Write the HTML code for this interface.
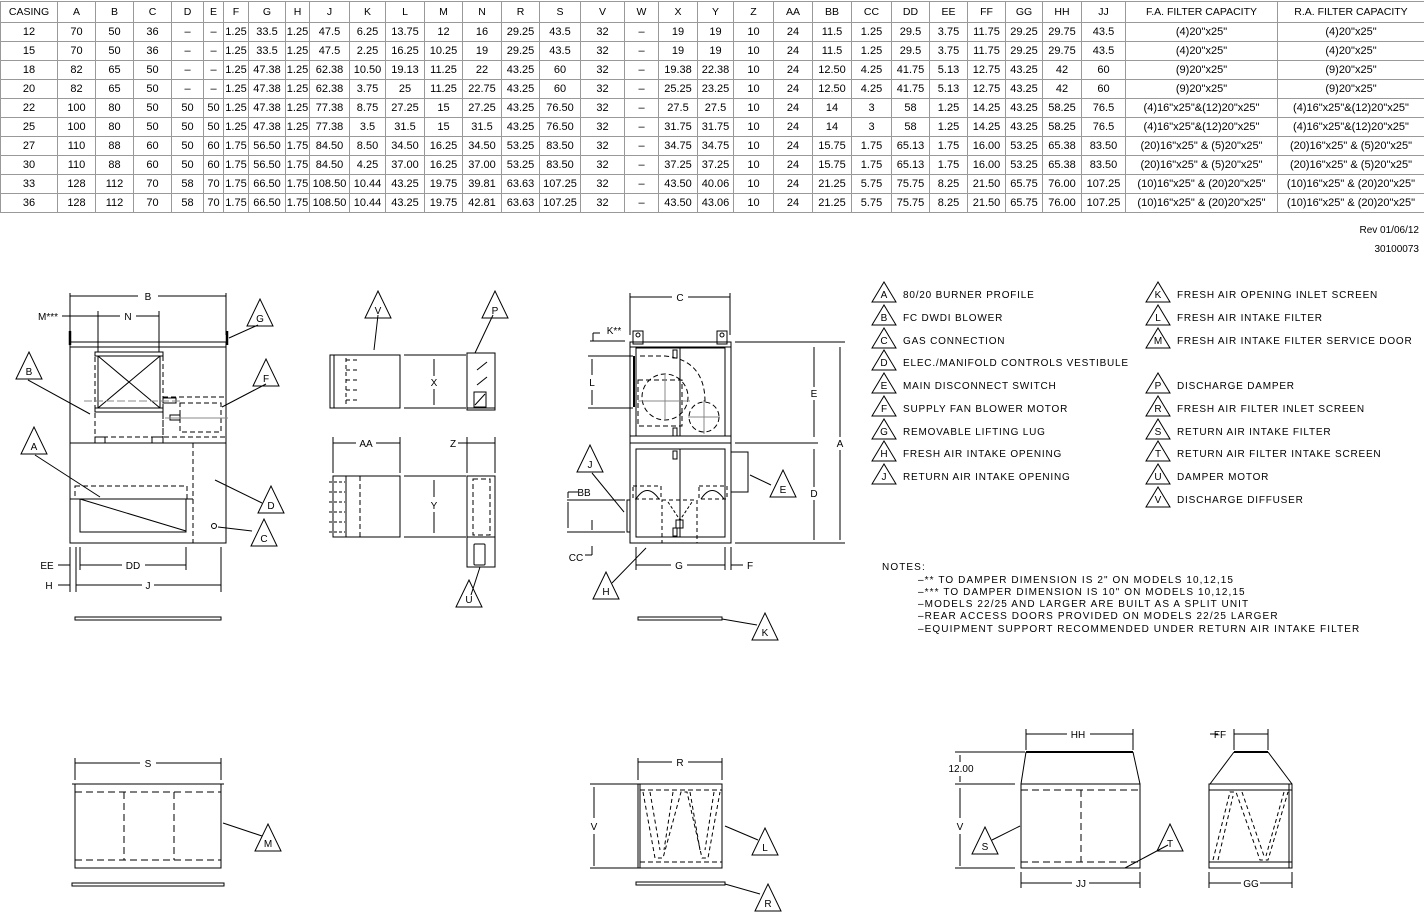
<!DOCTYPE html>
<html><head><meta charset="utf-8">
<style>
html,body{margin:0;padding:0;background:#fff;}
body{width:1424px;height:913px;position:relative;overflow:hidden;font-family:"Liberation Sans",sans-serif;}
table{position:absolute;left:0;top:1px;border-collapse:collapse;table-layout:fixed;width:1424px;font-size:11px;color:#000;}
td{border:1px solid #999;text-align:center;height:18px;padding:0;white-space:nowrap;overflow:hidden;line-height:18px;}
tr.h td{height:20px;font-size:10.5px;}
svg{position:absolute;left:0;top:0;}
svg text{font-family:"Liberation Sans",sans-serif;font-size:10px;fill:#000;}
</style></head><body>
<table>
<colgroup>
<col style="width:57px"><col style="width:38px"><col style="width:38px"><col style="width:38px"><col style="width:32px"><col style="width:20px"><col style="width:25px"><col style="width:37px"><col style="width:24px"><col style="width:40px"><col style="width:36px"><col style="width:39px"><col style="width:38px"><col style="width:39px"><col style="width:38px"><col style="width:41px"><col style="width:44px"><col style="width:34px"><col style="width:39px"><col style="width:36px"><col style="width:40px"><col style="width:39px"><col style="width:39px"><col style="width:40px"><col style="width:38px"><col style="width:38px"><col style="width:38px"><col style="width:37px"><col style="width:39px"><col style="width:44px"><col style="width:152px"><col style="width:147px">
</colgroup>
<tr class="h"><td>CASING</td><td>A</td><td>B</td><td>C</td><td>D</td><td>E</td><td>F</td><td>G</td><td>H</td><td>J</td><td>K</td><td>L</td><td>M</td><td>N</td><td>R</td><td>S</td><td>V</td><td>W</td><td>X</td><td>Y</td><td>Z</td><td>AA</td><td>BB</td><td>CC</td><td>DD</td><td>EE</td><td>FF</td><td>GG</td><td>HH</td><td>JJ</td><td>F.A. FILTER CAPACITY</td><td>R.A. FILTER CAPACITY</td></tr>
<tr><td>12</td><td>70</td><td>50</td><td>36</td><td>–</td><td>–</td><td>1.25</td><td>33.5</td><td>1.25</td><td>47.5</td><td>6.25</td><td>13.75</td><td>12</td><td>16</td><td>29.25</td><td>43.5</td><td>32</td><td>–</td><td>19</td><td>19</td><td>10</td><td>24</td><td>11.5</td><td>1.25</td><td>29.5</td><td>3.75</td><td>11.75</td><td>29.25</td><td>29.75</td><td>43.5</td><td>(4)20"x25"</td><td>(4)20"x25"</td></tr>
<tr><td>15</td><td>70</td><td>50</td><td>36</td><td>–</td><td>–</td><td>1.25</td><td>33.5</td><td>1.25</td><td>47.5</td><td>2.25</td><td>16.25</td><td>10.25</td><td>19</td><td>29.25</td><td>43.5</td><td>32</td><td>–</td><td>19</td><td>19</td><td>10</td><td>24</td><td>11.5</td><td>1.25</td><td>29.5</td><td>3.75</td><td>11.75</td><td>29.25</td><td>29.75</td><td>43.5</td><td>(4)20"x25"</td><td>(4)20"x25"</td></tr>
<tr><td>18</td><td>82</td><td>65</td><td>50</td><td>–</td><td>–</td><td>1.25</td><td>47.38</td><td>1.25</td><td>62.38</td><td>10.50</td><td>19.13</td><td>11.25</td><td>22</td><td>43.25</td><td>60</td><td>32</td><td>–</td><td>19.38</td><td>22.38</td><td>10</td><td>24</td><td>12.50</td><td>4.25</td><td>41.75</td><td>5.13</td><td>12.75</td><td>43.25</td><td>42</td><td>60</td><td>(9)20"x25"</td><td>(9)20"x25"</td></tr>
<tr><td>20</td><td>82</td><td>65</td><td>50</td><td>–</td><td>–</td><td>1.25</td><td>47.38</td><td>1.25</td><td>62.38</td><td>3.75</td><td>25</td><td>11.25</td><td>22.75</td><td>43.25</td><td>60</td><td>32</td><td>–</td><td>25.25</td><td>23.25</td><td>10</td><td>24</td><td>12.50</td><td>4.25</td><td>41.75</td><td>5.13</td><td>12.75</td><td>43.25</td><td>42</td><td>60</td><td>(9)20"x25"</td><td>(9)20"x25"</td></tr>
<tr><td>22</td><td>100</td><td>80</td><td>50</td><td>50</td><td>50</td><td>1.25</td><td>47.38</td><td>1.25</td><td>77.38</td><td>8.75</td><td>27.25</td><td>15</td><td>27.25</td><td>43.25</td><td>76.50</td><td>32</td><td>–</td><td>27.5</td><td>27.5</td><td>10</td><td>24</td><td>14</td><td>3</td><td>58</td><td>1.25</td><td>14.25</td><td>43.25</td><td>58.25</td><td>76.5</td><td>(4)16"x25"&amp;(12)20"x25"</td><td>(4)16"x25"&amp;(12)20"x25"</td></tr>
<tr><td>25</td><td>100</td><td>80</td><td>50</td><td>50</td><td>50</td><td>1.25</td><td>47.38</td><td>1.25</td><td>77.38</td><td>3.5</td><td>31.5</td><td>15</td><td>31.5</td><td>43.25</td><td>76.50</td><td>32</td><td>–</td><td>31.75</td><td>31.75</td><td>10</td><td>24</td><td>14</td><td>3</td><td>58</td><td>1.25</td><td>14.25</td><td>43.25</td><td>58.25</td><td>76.5</td><td>(4)16"x25"&amp;(12)20"x25"</td><td>(4)16"x25"&amp;(12)20"x25"</td></tr>
<tr><td>27</td><td>110</td><td>88</td><td>60</td><td>50</td><td>60</td><td>1.75</td><td>56.50</td><td>1.75</td><td>84.50</td><td>8.50</td><td>34.50</td><td>16.25</td><td>34.50</td><td>53.25</td><td>83.50</td><td>32</td><td>–</td><td>34.75</td><td>34.75</td><td>10</td><td>24</td><td>15.75</td><td>1.75</td><td>65.13</td><td>1.75</td><td>16.00</td><td>53.25</td><td>65.38</td><td>83.50</td><td>(20)16"x25" &amp; (5)20"x25"</td><td>(20)16"x25" &amp; (5)20"x25"</td></tr>
<tr><td>30</td><td>110</td><td>88</td><td>60</td><td>50</td><td>60</td><td>1.75</td><td>56.50</td><td>1.75</td><td>84.50</td><td>4.25</td><td>37.00</td><td>16.25</td><td>37.00</td><td>53.25</td><td>83.50</td><td>32</td><td>–</td><td>37.25</td><td>37.25</td><td>10</td><td>24</td><td>15.75</td><td>1.75</td><td>65.13</td><td>1.75</td><td>16.00</td><td>53.25</td><td>65.38</td><td>83.50</td><td>(20)16"x25" &amp; (5)20"x25"</td><td>(20)16"x25" &amp; (5)20"x25"</td></tr>
<tr><td>33</td><td>128</td><td>112</td><td>70</td><td>58</td><td>70</td><td>1.75</td><td>66.50</td><td>1.75</td><td>108.50</td><td>10.44</td><td>43.25</td><td>19.75</td><td>39.81</td><td>63.63</td><td>107.25</td><td>32</td><td>–</td><td>43.50</td><td>40.06</td><td>10</td><td>24</td><td>21.25</td><td>5.75</td><td>75.75</td><td>8.25</td><td>21.50</td><td>65.75</td><td>76.00</td><td>107.25</td><td>(10)16"x25" &amp; (20)20"x25"</td><td>(10)16"x25" &amp; (20)20"x25"</td></tr>
<tr><td>36</td><td>128</td><td>112</td><td>70</td><td>58</td><td>70</td><td>1.75</td><td>66.50</td><td>1.75</td><td>108.50</td><td>10.44</td><td>43.25</td><td>19.75</td><td>42.81</td><td>63.63</td><td>107.25</td><td>32</td><td>–</td><td>43.50</td><td>43.06</td><td>10</td><td>24</td><td>21.25</td><td>5.75</td><td>75.75</td><td>8.25</td><td>21.50</td><td>65.75</td><td>76.00</td><td>107.25</td><td>(10)16"x25" &amp; (20)20"x25"</td><td>(10)16"x25" &amp; (20)20"x25"</td></tr>
</table>

<svg width="1424" height="913" viewBox="0 0 1424 913" xmlns="http://www.w3.org/2000/svg">
<g fill="none" stroke="#000" stroke-width="1">
<!-- LEFT FRONT VIEW -->
<line x1="70" y1="296" x2="138" y2="296"/><line x1="158" y1="296" x2="226" y2="296"/>
<line x1="70" y1="293" x2="70" y2="335"/><line x1="226" y1="293" x2="226" y2="335"/>
<line x1="62" y1="316" x2="120" y2="316"/><line x1="136" y1="316" x2="159" y2="316"/>
<line x1="98" y1="311" x2="98" y2="352"/><line x1="159" y1="311" x2="159" y2="352"/>
<line x1="70" y1="331" x2="70" y2="345" stroke-width="2.5"/><line x1="227" y1="331" x2="227" y2="345" stroke-width="2.5"/>
<rect x="70" y="342" width="156" height="5"/>
<rect x="70" y="347" width="156" height="196"/>
<line x1="70" y1="443" x2="226" y2="443"/>
<rect x="95" y="352" width="68" height="85" stroke-dasharray="5,3"/>
<rect x="95" y="352" width="68" height="4"/>
<rect x="98" y="356" width="62" height="52"/>
<line x1="98" y1="356" x2="160" y2="408"/><line x1="160" y1="356" x2="98" y2="408"/>
<rect x="95" y="408" width="68" height="4"/>
<rect x="95" y="437" width="10" height="6"/><rect x="152" y="437" width="11" height="6"/>
<rect x="163" y="397" width="63" height="40" stroke-dasharray="5,3"/>
<rect x="180" y="403" width="41" height="29" stroke-dasharray="5,3"/>
<rect x="163" y="398" width="13" height="5"/><rect x="170" y="415" width="10" height="5"/>
<line x1="84" y1="401" x2="182" y2="401" stroke="#888" stroke-dasharray="8,3"/>
<line x1="165" y1="418" x2="228" y2="418" stroke="#888"/>
<line x1="193" y1="443" x2="193" y2="543" stroke-dasharray="5,3"/>
<rect x="75" y="486" width="112" height="13" stroke-dasharray="5,3"/>
<line x1="70" y1="499" x2="193" y2="499"/>
<rect x="80" y="499" width="106" height="33"/>
<line x1="80" y1="499" x2="186" y2="531"/>
<circle cx="214" cy="526" r="2.5"/>
<line x1="70" y1="547" x2="70" y2="592"/><line x1="76" y1="547" x2="76" y2="592"/>
<line x1="80" y1="547" x2="80" y2="570"/><line x1="186" y1="547" x2="186" y2="570"/>
<line x1="58" y1="565" x2="70" y2="565"/><line x1="80" y1="565" x2="122" y2="565"/><line x1="145" y1="565" x2="186" y2="565"/>
<line x1="58" y1="585" x2="70" y2="585"/><line x1="76" y1="585" x2="142" y2="585"/><line x1="154" y1="585" x2="221" y2="585"/>
<line x1="221" y1="547" x2="221" y2="592"/>
<rect x="75" y="617" width="146" height="3"/>
<line x1="258" y1="325" x2="229" y2="338"/>
<line x1="28" y1="380" x2="90" y2="414"/>
<line x1="266" y1="384" x2="222" y2="407"/>
<line x1="35" y1="455" x2="100" y2="497"/>
<line x1="262" y1="503" x2="215" y2="480"/>
<line x1="252" y1="531" x2="218" y2="527"/>

<!-- MIDDLE VIEWS -->
<rect x="330" y="355" width="4" height="53"/>
<rect x="334" y="355" width="66" height="53"/>
<line x1="346" y1="358" x2="346" y2="406" stroke-dasharray="4,3"/>
<line x1="346" y1="360" x2="360" y2="360" stroke-dasharray="4,3"/><line x1="346" y1="370" x2="360" y2="370" stroke-dasharray="4,3"/><line x1="346" y1="380" x2="360" y2="380" stroke-dasharray="4,3"/><line x1="346" y1="390" x2="360" y2="390" stroke-dasharray="4,3"/><line x1="346" y1="400" x2="360" y2="400" stroke-dasharray="4,3"/>
<line x1="404" y1="355" x2="466" y2="355"/><line x1="404" y1="408" x2="466" y2="408"/>
<line x1="434" y1="359" x2="434" y2="376"/><line x1="434" y1="389" x2="434" y2="405"/>
<rect x="467" y="353" width="28" height="57"/><line x1="467" y1="408" x2="495" y2="408"/>
<line x1="477" y1="370" x2="487" y2="362"/><line x1="477" y1="385" x2="487" y2="377"/>
<rect x="474" y="392" width="12" height="15"/><line x1="475" y1="405" x2="485" y2="394"/>
<line x1="378" y1="315" x2="374" y2="350"/>
<line x1="493" y1="315" x2="475" y2="353"/>
<line x1="333" y1="443" x2="356" y2="443"/><line x1="376" y1="443" x2="400" y2="443"/>
<line x1="333" y1="437" x2="333" y2="473"/><line x1="400" y1="437" x2="400" y2="473"/>
<line x1="458" y1="443" x2="495" y2="443"/>
<line x1="467" y1="437" x2="467" y2="473"/><line x1="495" y1="437" x2="495" y2="473"/>
<rect x="333" y="476" width="67" height="61"/>
<line x1="360" y1="476" x2="360" y2="537" stroke-dasharray="5,3"/>
<line x1="346" y1="476" x2="346" y2="537"/>
<line x1="329" y1="482" x2="345" y2="482" stroke-dasharray="3,2"/><line x1="329" y1="492" x2="345" y2="492" stroke-dasharray="3,2"/><line x1="329" y1="502" x2="345" y2="502" stroke-dasharray="3,2"/><line x1="329" y1="512" x2="345" y2="512" stroke-dasharray="3,2"/><line x1="329" y1="522" x2="345" y2="522" stroke-dasharray="3,2"/><line x1="329" y1="532" x2="345" y2="532" stroke-dasharray="3,2"/>
<line x1="404" y1="476" x2="466" y2="476"/><line x1="404" y1="537" x2="466" y2="537"/>
<line x1="434" y1="480" x2="434" y2="497"/><line x1="434" y1="512" x2="434" y2="533"/>
<rect x="467" y="476" width="28" height="91"/><line x1="467" y1="537" x2="495" y2="537"/>
<rect x="473" y="479" width="17" height="56" stroke-dasharray="5,3"/>
<rect x="474" y="544" width="11" height="21" rx="1"/>
<line x1="471" y1="595" x2="480" y2="567"/>

<!-- RIGHT SIDE VIEW -->
<line x1="630" y1="297" x2="672" y2="297"/><line x1="688" y1="297" x2="730" y2="297"/>
<line x1="630" y1="293" x2="630" y2="335"/><line x1="730" y1="293" x2="730" y2="335"/>
<rect x="633" y="331" width="10" height="13"/><rect x="717" y="331" width="10" height="13"/>
<circle cx="638" cy="335" r="2"/><circle cx="722" cy="335" r="2"/>
<rect x="630" y="342" width="101" height="5"/>
<rect x="630" y="347" width="101" height="196"/>
<rect x="636" y="348" width="89" height="88"/>
<line x1="680" y1="348" x2="680" y2="436"/>
<line x1="630" y1="436" x2="731" y2="436"/><line x1="630" y1="443" x2="731" y2="443"/>
<line x1="634" y1="356" x2="634" y2="407" stroke-width="2"/>
<circle cx="665" cy="397" r="23" stroke-dasharray="5,3"/>
<circle cx="704" cy="417" r="15" stroke-dasharray="5,3"/>
<path d="M640 356 L665 356 Q705 360 705 402" stroke-dasharray="5,3"/>
<rect x="638" y="380" width="44" height="46" stroke-dasharray="5,3"/>
<line x1="665" y1="374" x2="665" y2="420" stroke="#888"/><line x1="638" y1="401" x2="690" y2="401" stroke="#888"/>
<line x1="704" y1="400" x2="704" y2="434" stroke="#888"/><line x1="688" y1="417" x2="720" y2="417" stroke="#888"/>
<rect x="673" y="350" width="4" height="8"/><rect x="673" y="428" width="4" height="8"/>
<rect x="636" y="449" width="89" height="88"/>
<line x1="680" y1="449" x2="680" y2="537"/>
<rect x="673" y="451" width="4" height="8"/><rect x="673" y="528" width="4" height="8"/>
<rect x="731" y="452" width="17" height="40"/>
<rect x="633" y="486" width="28" height="13" stroke-dasharray="4,3"/><rect x="699" y="486" width="28" height="13" stroke-dasharray="4,3"/>
<path d="M636 499 Q647 482 659 499 M701 499 Q712 482 724 499"/>
<rect x="662" y="500" width="35" height="43" stroke-dasharray="4,3"/>
<path d="M668 502 L680 520 L692 502" stroke-dasharray="3,2"/><rect x="676" y="520" width="7" height="8"/>
<rect x="627" y="500" width="3" height="32"/>
<line x1="735" y1="342" x2="845" y2="342"/><line x1="735" y1="443" x2="818" y2="443"/><line x1="735" y1="543" x2="845" y2="543"/>
<line x1="814" y1="347" x2="814" y2="387"/><line x1="814" y1="400" x2="814" y2="437"/>
<line x1="814" y1="449" x2="814" y2="487"/><line x1="814" y1="500" x2="814" y2="540"/>
<line x1="840" y1="347" x2="840" y2="437"/><line x1="840" y1="450" x2="840" y2="540"/>
<line x1="590" y1="341" x2="625" y2="341"/><line x1="593" y1="333" x2="593" y2="341"/><line x1="593" y1="333" x2="600" y2="333"/>
<line x1="588" y1="356" x2="633" y2="356"/><line x1="588" y1="408" x2="633" y2="408"/>
<line x1="592" y1="359" x2="592" y2="375"/><line x1="592" y1="390" x2="592" y2="405"/>
<line x1="567" y1="500" x2="625" y2="500"/><line x1="567" y1="532" x2="625" y2="532"/>
<line x1="568" y1="502" x2="568" y2="528"/><line x1="592" y1="520" x2="592" y2="530"/>
<line x1="568" y1="492" x2="578" y2="492"/><line x1="568" y1="492" x2="568" y2="498"/>
<line x1="592" y1="546" x2="592" y2="555"/><line x1="585" y1="555" x2="592" y2="555"/>
<line x1="636" y1="547" x2="636" y2="570"/><line x1="725" y1="547" x2="725" y2="570"/><line x1="731" y1="547" x2="731" y2="570"/>
<line x1="636" y1="565" x2="671" y2="565"/><line x1="687" y1="565" x2="725" y2="565"/><line x1="731" y1="565" x2="743" y2="565"/>
<line x1="612" y1="583" x2="646" y2="548"/>
<line x1="592" y1="473" x2="624" y2="512"/>
<line x1="771" y1="485" x2="750" y2="475"/>
<rect x="638" y="617" width="84" height="3"/>
<line x1="722" y1="619" x2="757" y2="625"/>

<!-- BOTTOM LEFT -->
<line x1="75" y1="763" x2="140" y2="763"/><line x1="156" y1="763" x2="221" y2="763"/>
<line x1="75" y1="758" x2="75" y2="780"/><line x1="221" y1="758" x2="221" y2="780"/>
<line x1="72" y1="784" x2="224" y2="784"/>
<rect x="75" y="784" width="146" height="84"/>
<line x1="75" y1="792" x2="221" y2="792" stroke-dasharray="7,4"/><line x1="75" y1="860" x2="221" y2="860" stroke-dasharray="7,4"/>
<line x1="124" y1="792" x2="124" y2="860" stroke-dasharray="7,4"/><line x1="174" y1="792" x2="174" y2="860" stroke-dasharray="7,4"/>
<rect x="72" y="883" width="152" height="3"/>
<line x1="223" y1="823" x2="262" y2="836"/>

<!-- BOTTOM MIDDLE -->
<line x1="638" y1="762" x2="672" y2="762"/><line x1="688" y1="762" x2="722" y2="762"/>
<line x1="638" y1="758" x2="638" y2="780"/><line x1="722" y1="758" x2="722" y2="780"/>
<line x1="590" y1="784" x2="722" y2="784"/><line x1="590" y1="868" x2="722" y2="868"/>
<rect x="638" y="784" width="84" height="84"/><line x1="640" y1="784" x2="640" y2="868"/>
<line x1="640" y1="790" x2="722" y2="790" stroke-dasharray="5,3"/><line x1="640" y1="862" x2="722" y2="862" stroke-dasharray="5,3"/>
<path d="M643 792 L655 858 L663 858 L681 792 L687 792 L702 858 L708 858 L720 792" stroke-dasharray="4,3"/>
<path d="M650 792 L660 850 M673 792 L664 850 M690 792 L700 850 M714 792 L705 850" stroke-dasharray="4,3"/>
<line x1="594" y1="787" x2="594" y2="818"/><line x1="594" y1="834" x2="594" y2="866"/>
<rect x="636" y="882" width="89" height="3"/>
<line x1="725" y1="826" x2="758" y2="840"/><line x1="725" y1="884" x2="760" y2="894"/>

<!-- BOTTOM RIGHT -->
<line x1="1026" y1="734" x2="1067" y2="734"/><line x1="1090" y1="734" x2="1133" y2="734"/>
<line x1="1026" y1="729" x2="1026" y2="750"/><line x1="1133" y1="729" x2="1133" y2="750"/>
<line x1="1026" y1="752" x2="1133" y2="752" stroke-width="2"/>
<line x1="1026" y1="752" x2="1021" y2="784"/><line x1="1133" y1="752" x2="1140" y2="784"/>
<line x1="955" y1="752" x2="1025" y2="752"/><line x1="955" y1="784" x2="1015" y2="784"/><line x1="955" y1="868" x2="1015" y2="868"/>
<line x1="960" y1="755" x2="960" y2="762"/><line x1="960" y1="776" x2="960" y2="782"/>
<rect x="1021" y="784" width="119" height="84"/>
<line x1="1021" y1="790" x2="1140" y2="790" stroke-dasharray="7,4"/><line x1="1021" y1="862" x2="1140" y2="862" stroke-dasharray="7,4"/>
<line x1="1081" y1="790" x2="1081" y2="862" stroke-dasharray="7,4"/>
<line x1="960" y1="788" x2="960" y2="818"/><line x1="960" y1="834" x2="960" y2="866"/>
<line x1="1021" y1="872" x2="1021" y2="888"/><line x1="1140" y1="872" x2="1140" y2="888"/>
<line x1="1021" y1="883" x2="1072" y2="883"/><line x1="1089" y1="883" x2="1140" y2="883"/>
<line x1="992" y1="840" x2="1020" y2="826"/><line x1="1168" y1="845" x2="1125" y2="868"/>
<line x1="1234" y1="734" x2="1268" y2="734"/><line x1="1210" y1="734" x2="1218" y2="734"/>
<line x1="1234" y1="729" x2="1234" y2="750"/><line x1="1268" y1="729" x2="1268" y2="750"/>
<line x1="1234" y1="752" x2="1268" y2="752" stroke-width="2"/>
<line x1="1234" y1="752" x2="1210" y2="784"/><line x1="1268" y1="752" x2="1292" y2="784"/>
<rect x="1209" y="784" width="83" height="84"/><line x1="1209" y1="790" x2="1292" y2="790"/><line x1="1209" y1="862" x2="1292" y2="862"/>
<line x1="1289" y1="784" x2="1289" y2="868"/>
<path d="M1213 860 L1230 792 L1236 792 L1260 860 L1268 860 L1288 792" stroke-dasharray="4,3"/>
<path d="M1218 860 L1233 796 M1242 792 L1264 856 M1284 792 L1266 856" stroke-dasharray="4,3"/>
<line x1="1209" y1="872" x2="1209" y2="888"/><line x1="1292" y1="872" x2="1292" y2="888"/>
<line x1="1209" y1="883" x2="1241" y2="883"/><line x1="1260" y1="883" x2="1292" y2="883"/>

<path d="M247 326 L260 299 L273 326 Z"/>
<path d="M16 379 L29 352 L42 379 Z"/>
<path d="M253 386 L266 359 L279 386 Z"/>
<path d="M21 454 L34 427 L47 454 Z"/>
<path d="M258 513 L271 486 L284 513 Z"/>
<path d="M251 546 L264 519 L277 546 Z"/>
<path d="M365 318 L378 291 L391 318 Z"/>
<path d="M482 318 L495 291 L508 318 Z"/>
<path d="M456 607 L469 580 L482 607 Z"/>
<path d="M577 472 L590 445 L603 472 Z"/>
<path d="M770 497 L783 470 L796 497 Z"/>
<path d="M593 599 L606 572 L619 599 Z"/>
<path d="M752 640 L765 613 L778 640 Z"/>
<path d="M255 851 L268 824 L281 851 Z"/>
<path d="M752 855 L765 828 L778 855 Z"/>
<path d="M755 911 L768 884 L781 911 Z"/>
<path d="M972 854 L985 827 L998 854 Z"/>
<path d="M1157 851 L1170 824 L1183 851 Z"/>
<path d="M872 302 L884 282 L896 302 Z"/><path d="M872 325 L884 305 L896 325 Z"/><path d="M872 348 L884 328 L896 348 Z"/><path d="M872 370 L884 350 L896 370 Z"/><path d="M872 393 L884 373 L896 393 Z"/><path d="M872 416 L884 396 L896 416 Z"/><path d="M872 439 L884 419 L896 439 Z"/><path d="M872 461 L884 441 L896 461 Z"/><path d="M872 484 L884 464 L896 484 Z"/>
<path d="M1146 302 L1158 282 L1170 302 Z"/><path d="M1146 325 L1158 305 L1170 325 Z"/><path d="M1146 348 L1158 328 L1170 348 Z"/><path d="M1146 393 L1158 373 L1170 393 Z"/><path d="M1146 416 L1158 396 L1170 416 Z"/><path d="M1146 439 L1158 419 L1170 439 Z"/><path d="M1146 461 L1158 441 L1170 461 Z"/><path d="M1146 484 L1158 464 L1170 484 Z"/><path d="M1146 507 L1158 487 L1170 507 Z"/>
</g>

<g text-anchor="middle">
<text x="148" y="300">B</text><text x="128" y="320">N</text><text x="48" y="320" font-size="9">M***</text>
<text x="47" y="569">EE</text><text x="49" y="589">H</text><text x="133" y="569">DD</text><text x="148" y="589">J</text>
<text x="260" y="322">G</text><text x="29" y="375">B</text><text x="266" y="382">F</text><text x="34" y="450">A</text><text x="271" y="509">D</text><text x="264" y="542">C</text>
<text x="378" y="314">V</text><text x="495" y="314">P</text><text x="469" y="603">U</text>
<text x="434" y="386">X</text><text x="366" y="447">AA</text><text x="453" y="447">Z</text><text x="434" y="509">Y</text>
<text x="680" y="301">C</text><text x="614" y="334" font-size="9">K**</text><text x="592" y="386">L</text>
<text x="814" y="397">E</text><text x="814" y="497">D</text><text x="840" y="447">A</text>
<text x="584" y="496">BB</text><text x="576" y="561">CC</text><text x="679" y="569">G</text><text x="750" y="569">F</text>
<text x="590" y="468">J</text><text x="783" y="493">E</text><text x="606" y="595">H</text><text x="765" y="636">K</text>
<text x="148" y="767">S</text><text x="268" y="847">M</text>
<text x="680" y="766">R</text><text x="594" y="830">V</text><text x="765" y="851">L</text><text x="768" y="907">R</text>
<text x="1078" y="738">HH</text><text x="961" y="772">12.00</text><text x="960" y="830">V</text><text x="1081" y="887">JJ</text>
<text x="985" y="850">S</text><text x="1170" y="847">T</text>
<text x="1220" y="738">FF</text><text x="1251" y="887">GG</text>
</g>
<g text-anchor="middle">
<text x="884" y="298" font-size="9.5">A</text><text x="884" y="321" font-size="9.5">B</text><text x="884" y="344" font-size="9.5">C</text><text x="884" y="366" font-size="9.5">D</text><text x="884" y="389" font-size="9.5">E</text><text x="884" y="412" font-size="9.5">F</text><text x="884" y="435" font-size="9.5">G</text><text x="884" y="457" font-size="9.5">H</text><text x="884" y="480" font-size="9.5">J</text>
<text x="1158" y="298" font-size="9.5">K</text><text x="1158" y="321" font-size="9.5">L</text><text x="1158" y="344" font-size="9.5">M</text><text x="1158" y="389" font-size="9.5">P</text><text x="1158" y="412" font-size="9.5">R</text><text x="1158" y="435" font-size="9.5">S</text><text x="1158" y="457" font-size="9.5">T</text><text x="1158" y="480" font-size="9.5">U</text><text x="1158" y="503" font-size="9.5">V</text>
</g>
<g style="letter-spacing:0.8px">
<text x="903" y="298" font-size="11">80/20 BURNER PROFILE</text>
<text x="903" y="321" font-size="11">FC DWDI BLOWER</text>
<text x="903" y="344" font-size="11">GAS CONNECTION</text>
<text x="903" y="366" font-size="11">ELEC./MANIFOLD CONTROLS VESTIBULE</text>
<text x="903" y="389" font-size="11">MAIN DISCONNECT SWITCH</text>
<text x="903" y="412" font-size="11">SUPPLY FAN BLOWER MOTOR</text>
<text x="903" y="435" font-size="11">REMOVABLE LIFTING LUG</text>
<text x="903" y="457" font-size="11">FRESH AIR INTAKE OPENING</text>
<text x="903" y="480" font-size="11">RETURN AIR INTAKE OPENING</text>
<text x="1177" y="298" font-size="11">FRESH AIR OPENING INLET SCREEN</text>
<text x="1177" y="321" font-size="11">FRESH AIR INTAKE FILTER</text>
<text x="1177" y="344" font-size="11">FRESH AIR INTAKE FILTER SERVICE DOOR</text>
<text x="1177" y="389" font-size="11">DISCHARGE DAMPER</text>
<text x="1177" y="412" font-size="11">FRESH AIR FILTER INLET SCREEN</text>
<text x="1177" y="435" font-size="11">RETURN AIR INTAKE FILTER</text>
<text x="1177" y="457" font-size="11">RETURN AIR FILTER INTAKE SCREEN</text>
<text x="1177" y="480" font-size="11">DAMPER MOTOR</text>
<text x="1177" y="503" font-size="11">DISCHARGE DIFFUSER</text>
</g>
<g style="letter-spacing:1.1px">
<text x="882" y="570" font-size="11">NOTES:</text>
<text x="918" y="583" font-size="11">–**  TO DAMPER DIMENSION IS 2" ON MODELS 10,12,15</text>
<text x="918" y="595" font-size="11">–*** TO DAMPER DIMENSION IS 10" ON MODELS 10,12,15</text>
<text x="918" y="607" font-size="11">–MODELS 22/25 AND LARGER ARE BUILT AS A SPLIT UNIT</text>
<text x="918" y="619" font-size="11">–REAR ACCESS DOORS PROVIDED ON MODELS 22/25 LARGER</text>
<text x="918" y="632" font-size="11">–EQUIPMENT SUPPORT RECOMMENDED UNDER RETURN AIR INTAKE FILTER</text>
</g>
<text x="1419" y="233" text-anchor="end" font-size="11">Rev  01/06/12</text>
<text x="1419" y="252" text-anchor="end" font-size="10">30100073</text>
</svg>
</body></html>
